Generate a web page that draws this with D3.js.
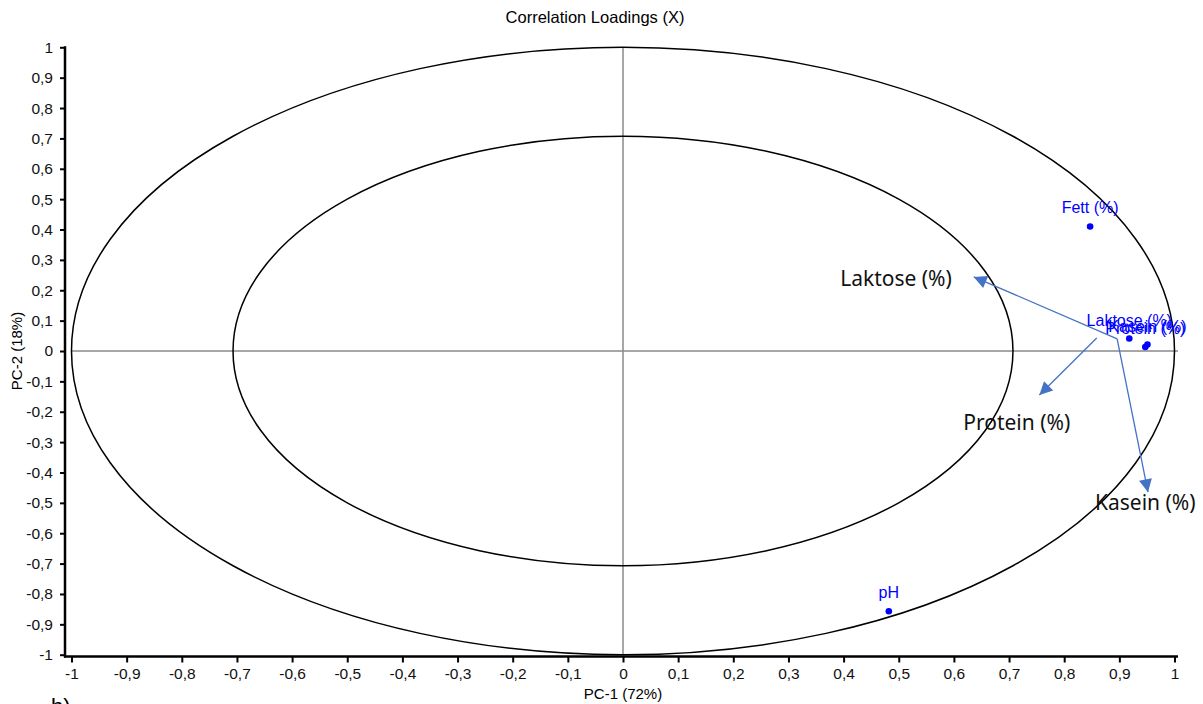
<!DOCTYPE html>
<meta charset="utf-8">
<style>
    body { margin: 0; background: #fff; }
    text { font-family: "Liberation Sans", Arial, sans-serif; }
    .ellipse { fill: none; stroke: #000; stroke-width: 1.5px; }
    .cross { stroke: #8a8a8a; stroke-width: 1.5px; }
    .axis path, .axis line { stroke: #000; }
    .axis text { font-size: 15.5px; fill: #111; }
    .arrow { fill: none; stroke: #4472c4; stroke-width: 1.3px; }
    .note { font-family: "Noto Sans", "Open Sans", sans-serif; font-size: 21px; fill: #111; }
</style>
<script src="https://d3js.org/d3.v7.min.js"></script>
<body>
<div id="chart"></div>
<script>
    // loadings
    var variables = ["Fett (%)", "Laktose (%)", "Kasein (%)", "Protein (%)", "pH"];
    var pc1 = [0.847, 0.918, 0.951, 0.947, 0.482];
    var pc2 = [0.410, 0.041, 0.021, 0.013, -0.857];

    // hand drawn annotations (data units)
    var noteLabels = ["Laktose (%)", "Protein (%)", "Kasein (%)"];
    var noteX = [0.495, 0.714, 0.947];
    var noteY = [0.237, -0.237, -0.50];
    var arrowFrom = [[0.896, 0.040], [0.859, 0.043], [0.896, 0.040]];
    var arrowTo = [[0.636, 0.244], [0.755, -0.145], [0.952, -0.465]];

    var ticks = d3.range(-10, 11).map(d => d / 10);
    var minorTicks = d3.range(-20, 21).map(d => d / 20);

    var W = 1203, H = 704;
    var svg = d3.select("#chart").append("svg")
        .attr("width", W)
        .attr("height", H);

    var x = d3.scaleLinear().domain([-1, 1]).range([71.5, 1174.5]),
        y = d3.scaleLinear().domain([-1, 1]).range([654.7, 47.3]);

    var axisX = 65, axisY = 656.5;
    var fmt = d => String(+d.toFixed(1)).replace(".", ",");

    // title
    svg.append("text")
        .attr("x", 595).attr("y", 23)
        .attr("text-anchor", "middle")
        .style("font-size", "16.5px")
        .text("Correlation Loadings (X)");

    // cross hair
    svg.append("line").attr("class", "cross")
        .attr("x1", x(-1)).attr("x2", 1178)
        .attr("y1", y(0)).attr("y2", y(0));
    svg.append("line").attr("class", "cross")
        .attr("x1", x(0)).attr("x2", x(0))
        .attr("y1", y(1)).attr("y2", y(-1));

    // correlation circles (100% and 50% explained variance)
    [1, Math.sqrt(0.5)].forEach(function(r) {
        svg.append("ellipse").attr("class", "ellipse")
            .attr("cx", x(0)).attr("cy", y(0))
            .attr("rx", x(r) - x(0))
            .attr("ry", y(0) - y(r));
    });

    // y axis
    var gy = svg.append("g").attr("class", "axis")
        .attr("transform", "translate(" + axisX + ",0)");
    gy.call(d3.axisLeft(y).tickValues(minorTicks).tickSize(5).tickFormat(""));
    gy.call(d3.axisLeft(y).tickValues(ticks).tickSize(5).tickPadding(7).tickFormat(fmt));
    gy.selectAll(".domain").remove();
    gy.append("line").attr("y1", y(1) - 1).attr("y2", axisY + 1)
        .attr("stroke", "#000").attr("stroke-width", 2.5);

    // x axis
    var gx = svg.append("g").attr("class", "axis")
        .attr("transform", "translate(0," + axisY + ")");
    gx.call(d3.axisBottom(x).tickValues(minorTicks).tickSize(4).tickFormat(""));
    gx.call(d3.axisBottom(x).tickValues(ticks).tickSize(6).tickPadding(5).tickFormat(fmt));
    gx.selectAll(".domain").remove();
    gx.append("line").attr("x1", axisX - 1).attr("x2", 1178)
        .attr("stroke", "#000").attr("stroke-width", 2.5);
    gx.selectAll(".tick line").attr("stroke-width", 2);
    gy.selectAll(".tick line").attr("stroke-width", 2);

    // axis titles
    svg.append("text")
        .attr("x", x(0)).attr("y", 699)
        .attr("text-anchor", "middle")
        .style("font-size", "15px")
        .text("PC-1 (72%)");
    svg.append("text")
        .attr("transform", "translate(22," + y(0) + ") rotate(-90)")
        .attr("text-anchor", "middle")
        .style("font-size", "15px")
        .text("PC-2 (18%)");

    // points and labels
    var pts = svg.append("g");
    variables.forEach(function(v, i) {
        pts.append("circle")
            .attr("cx", x(pc1[i])).attr("cy", y(pc2[i]))
            .attr("r", 3.3)
            .attr("fill", "#0000ff");
        pts.append("text")
            .attr("x", x(pc1[i])).attr("y", y(pc2[i]) - 13)
            .attr("text-anchor", "middle")
            .attr("fill", "#0000ff")
            .style("font-size", "16px")
            .text(v);
    });

    // annotation arrows
    svg.append("defs").append("marker")
        .attr("id", "head")
        .attr("viewBox", "0 0 10 10")
        .attr("refX", 10).attr("refY", 5)
        .attr("markerWidth", 15).attr("markerHeight", 13)
        .attr("markerUnits", "userSpaceOnUse")
        .attr("orient", "auto")
        .append("path")
        .attr("d", "M0,0L10,5L0,10Z")
        .attr("fill", "#4472c4");

    arrowFrom.forEach(function(f, i) {
        svg.append("line").attr("class", "arrow")
            .attr("x1", x(f[0])).attr("y1", y(f[1]))
            .attr("x2", x(arrowTo[i][0])).attr("y2", y(arrowTo[i][1]))
            .attr("marker-end", "url(#head)");
    });

    noteLabels.forEach(function(t, i) {
        svg.append("text").attr("class", "note")
            .attr("x", x(noteX[i])).attr("y", y(noteY[i]))
            .attr("dy", "0.35em")
            .attr("text-anchor", "middle")
            .text(t);
    });

    svg.append("text")
        .attr("x", 51).attr("y", 714)
        .style("font-size", "22px")
        .text("b)");
</script>
</body>
